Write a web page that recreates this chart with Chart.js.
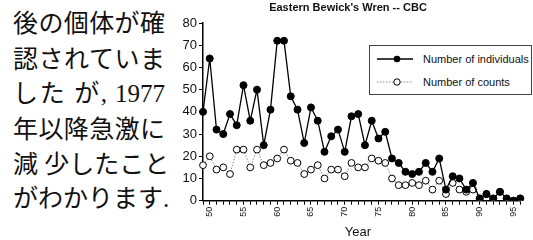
<!DOCTYPE html>
<html><head><meta charset="utf-8">
<script src="https://cdn.jsdelivr.net/npm/chart.js@4"></script>
<style>
html,body{margin:0;padding:0;background:#fff;width:533px;height:240px;overflow:hidden;position:relative}
.jp{position:absolute;left:13px;width:152px;height:35px;line-height:35px;font-size:25px;font-family:"Liberation Serif","Noto Sans CJK JP",serif;color:#111;white-space:nowrap}
.j{text-align:justify;text-align-last:justify}
#wrap{position:absolute;left:170px;top:0;width:363px;height:240px}
#title{position:absolute;left:230px;width:236px;top:1px;text-align:center;font:bold 11px "Liberation Sans",Arial,sans-serif;color:#111}
#xt{position:absolute;left:328px;width:60px;top:224px;text-align:center;font:13px "Liberation Sans",Arial,sans-serif;color:#111}
#leg{position:absolute;left:369px;top:45px;width:161px;height:48px;border:1.5px solid #444;background:#fff;font:11px "Liberation Sans",Arial,sans-serif;color:#111}
.row{position:absolute;left:6px;height:14px;display:flex;align-items:center}
.row svg{margin-right:9px}
</style></head><body>
<div class="jp j" style="top:6px">後の個体が確</div>
<div class="jp j" style="top:42px">認されていま</div>
<div class="jp j" style="top:76px">した が, 1977</div>
<div class="jp j" style="top:112px">年以降急激に</div>
<div class="jp j" style="top:147px">減 少したこと</div>
<div class="jp" style="top:181px">がわかります.</div>
<div id="wrap"><canvas id="c" width="363" height="240"></canvas></div>
<div id="title">Eastern Bewick's Wren -- CBC</div>
<div id="xt">Year</div>
<div id="leg">
 <div class="row" style="top:6px"><svg width="38" height="14"><line x1="1" y1="7" x2="37" y2="7" stroke="#000" stroke-width="1.3"/><circle cx="21" cy="7" r="3.3" fill="#000"/></svg>Number of individuals</div>
 <div class="row" style="top:29px"><svg width="38" height="14"><line x1="1" y1="7" x2="37" y2="7" stroke="#888" stroke-width="1" stroke-dasharray="1.5,1.5"/><circle cx="21" cy="7" r="3.2" fill="#fff" stroke="#000" stroke-width="1"/></svg>Number of counts</div>
</div>
<script>
const years = [1949,1950,1951,1952,1953,1954,1955,1956,1957,1958,1959,1960,1961,1962,1963,1964,1965,1966,1967,1968,1969,1970,1971,1972,1973,1974,1975,1976,1977,1978,1979,1980,1981,1982,1983,1984,1985,1986,1987,1988,1989,1990,1991,1992,1993,1994,1995,1996];
const individuals = [40,64,32,30,39,34,52,36,50,25,41,72,72,47,41,26,42,36,22,29,32,22,38,39,25,36,28,31,19,17,13,12,13,17,13,19,5,11,10,5,8,1,3,1,4,1,0,1];
const counts = [16,20,14,15,12,23,23,15,23,16,17,19,23,18,17,12,14,16,10,14,14,11,17,15,15,19,18,17,10,7,7,8,7,9,5,9,3,8,5,4,5,1,3,1,4,1,0,1];
const yTicks = [0,10,20,30,40,50,60,70,80];

new Chart(document.getElementById('c'), {
  type: 'line',
  data: {
    labels: years.map(String),
    datasets: [
      {label:'Number of individuals', data: individuals, borderColor:'#000', borderWidth:1.3,
       pointRadius:3.5, pointBackgroundColor:'#000', pointBorderColor:'#000', pointBorderWidth:1, tension:0},
      {label:'Number of counts', data: counts, borderColor:'#888', borderWidth:1, borderDash:[1.5,1.5],
       pointRadius:3.4, pointBackgroundColor:'#fff', pointBorderColor:'#000', pointBorderWidth:1, tension:0}
    ]
  },
  options: {
    responsive:false, animation:false, devicePixelRatio:1,
    layout:{padding:{top:23,right:4,left:0,bottom:0}},
    plugins:{legend:{display:false}, title:{display:false}, tooltip:{enabled:false}},
    scales:{
      x:{type:'category', offset:false,
        border:{color:'#000', width:1.5},
        grid:{drawOnChartArea:false, drawTicks:true, tickLength:4, color:'#000', lineWidth:1},
        ticks:{autoSkip:false, minRotation:90, maxRotation:90, padding:2, color:'#111',
          font:{size:9, family:'"Liberation Sans", Arial, sans-serif'},
          callback:(v,i)=> (years[i] % 5 === 0 ? String(years[i]).slice(2) : '')},
        afterFit:(s)=>{ s.height = 39.3; }
      },
      y:{min:0, max:80,
        border:{color:'#000', width:1.5},
        grid:{drawOnChartArea:false, drawTicks:true, tickLength:4, color:'#000', lineWidth:1},
        afterBuildTicks:(s)=>{ s.ticks = yTicks.map(v=>({value:v})); },
        ticks:{padding:2, color:'#111', font:{size:13, family:'"Liberation Sans", Arial, sans-serif'}},
        afterFit:(s)=>{ s.width = 33; }
      }
    }
  }
});
</script>
</body></html>
